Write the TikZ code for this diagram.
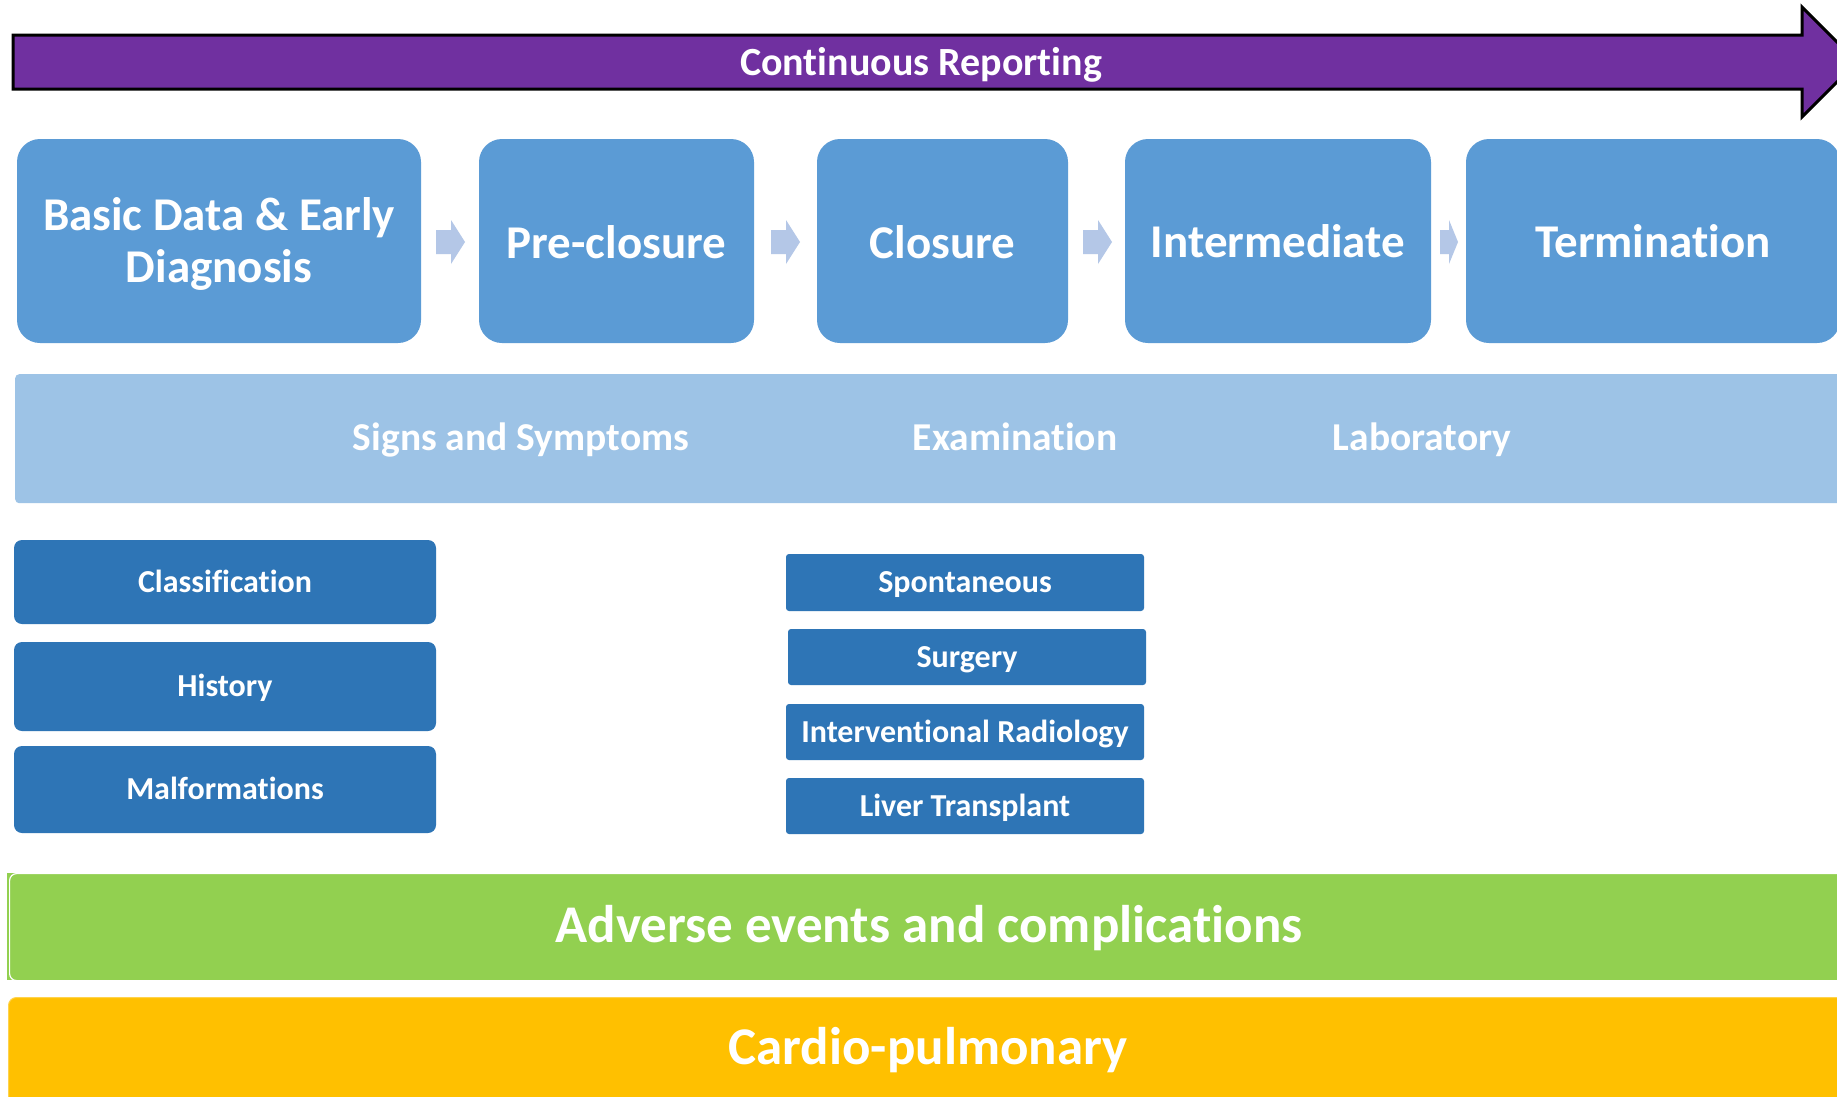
\documentclass[tikz,border=0pt]{standalone}
\usepackage{fontspec}
\setmainfont{Carlito}[RawFeature={-liga;-clig;-calt;-dlig}]
\usetikzlibrary{calc}
\definecolor{purp}{HTML}{7030A0}
\definecolor{topblue}{HTML}{5B9BD5}
\definecolor{bandblue}{HTML}{9DC3E6}
\definecolor{darkblue}{HTML}{2E75B6}
\definecolor{chevc}{HTML}{B4C7E7}
\definecolor{grn}{HTML}{92D050}
\definecolor{ylw}{HTML}{FFC000}
\newcommand\chevr[3]{\fill[chevc] (#1) ++(0,-12) -- ++(#2,0) -- ++(0,-10) -- ++(#3,22) -- ++(-#3,22) -- ++(0,-10) -- ++(-#2,0) -- cycle;}
\begin{document}
\begin{tikzpicture}[x=1pt,y=-1pt,
  stage/.style={fill=topblue, rounded corners=23pt, text=white, font=\bfseries\fontsize{47}{52}\selectfont, align=center, inner sep=0pt},
  stagetxt/.style={text=white, font=\bfseries\fontsize{47}{52}\selectfont, inner sep=0pt, text height=29.7pt, text depth=0pt},
  bandtxt/.style={text=white, font=\bfseries\fontsize{39.5}{44}\selectfont, inner sep=0pt, text height=25pt, text depth=0pt},
  leftbox/.style={fill=darkblue, rounded corners=8pt, text=white, font=\bfseries\fontsize{32}{36}\selectfont, inner sep=0pt, minimum width=422pt, text height=20.2pt, text depth=0pt},
  midbox/.style={fill=darkblue, rounded corners=3pt, text=white, font=\bfseries\fontsize{32}{36}\selectfont, inner sep=0pt, minimum width=358pt, text height=20.2pt, text depth=0pt},
  bigtxt/.style={text=white, font=\bfseries\fontsize{53}{58}\selectfont, inner sep=0pt, text height=33.5pt, text depth=0pt},
  titletxt/.style={text=white, font=\bfseries\fontsize{40}{44}\selectfont, inner sep=0pt, text height=25.3pt, text depth=0pt}]
\useasboundingbox (0,0) rectangle (1837,1096);
\clip (0,0) rectangle (1837,1096);
\fill[white] (0,0) rectangle (1837,1096);

% Continuous reporting arrow
\draw[line width=3pt, fill=purp, line join=miter] (13,35) -- (1802,35) -- (1802,7) -- (1857,62) -- (1802,117) -- (1802,89) -- (13,89) -- cycle;
\node[titletxt] (cr) at (921,63) {Continuous Reporting};

% stages
\node[stage, minimum width=404pt, minimum height=204pt] (b1) at (219,241) {};
\node[text=white, font=\bfseries\fontsize{47}{52}\selectfont, align=center, inner sep=0pt] (b1t) at (219,243.5) {Basic Data \& Early\\Diagnosis};
\node[stage, minimum width=275pt, minimum height=204pt] (b2) at (616.5,241) {};
\node[stagetxt] (b2t) at (616.5,243.5) {Pre-closure};
\node[stage, minimum width=251pt, minimum height=204pt] (b3) at (942.5,241) {};
\node[stagetxt] (b3t) at (942.5,243.5) {Closure};
\node[stage, minimum width=306pt, minimum height=204pt] (b4) at (1278,241) {};
\node[stagetxt] (b4t) at (1278,242.5) {Intermediate};
\node[stage, minimum width=374pt, minimum height=204pt] (b5) at (1653,241) {};
\node[stagetxt] (b5t) at (1653,242.5) {Termination};

% chevrons between stages
\coordinate (c1) at (436,242);
\coordinate (c2) at (771,242);
\coordinate (c3) at (1083,242);
\coordinate (c4) at (1440,242);
\chevr{c1}{15}{14}
\chevr{c2}{15}{14}
\chevr{c3}{15}{14}
\chevr{c4}{9}{9}

% light band
\node[fill=bandblue, rounded corners=4pt, minimum width=1840pt, minimum height=129pt, inner sep=0pt, anchor=north west] (band) at (15,374) {};
\node[bandtxt] (sig) at (521,438) {Signs and Symptoms};
\node[bandtxt] (exa) at (1015,438) {Examination};
\node[bandtxt] (lab) at (1422,438) {Laboratory};

% left boxes
\node[leftbox, minimum height=84pt] (cla) at (225,582) {Classification};
\node[leftbox, minimum height=89pt] (his) at (225,686.5) {History};
\node[leftbox, minimum height=87pt] (mal) at (225,789.5) {Malformations};

% middle boxes
\node[midbox, minimum height=57pt] (spo) at (965,582.5) {Spontaneous};
\node[midbox, minimum height=56pt] (sur) at (967,657) {Surgery};
\node[midbox, minimum height=56pt] (int) at (965,732) {Interventional Radiology};
\node[midbox, minimum height=56pt] (liv) at (965,806) {Liver Transplant};

% adverse events
\fill[grn] (7,873) rectangle (1850,980);
\node[fill=grn, draw=white, line width=1.2pt, rounded corners=7pt, minimum width=1842pt, minimum height=107pt, inner sep=0pt, anchor=north west] (grband) at (9,873) {};
\node[bigtxt] (adv) at (929,926) {Adverse events and complications};

% cardio-pulmonary
\node[fill=ylw, draw=ylw!70!white, line width=1pt, rounded corners=8pt, minimum width=1842pt, minimum height=130pt, inner sep=0pt, anchor=north west] (ylband) at (8,997) {};
\node[bigtxt] (car) at (928,1048) {Cardio-pulmonary};
\end{tikzpicture}
\end{document}
